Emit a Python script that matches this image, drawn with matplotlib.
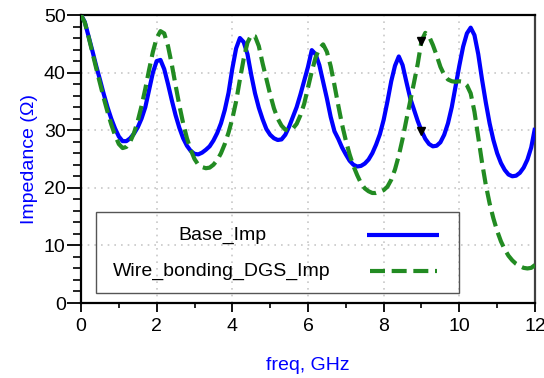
import numpy as np
import matplotlib
matplotlib.use("Agg")
import matplotlib.pyplot as plt
from matplotlib.patches import Rectangle
from matplotlib.ticker import MultipleLocator

plt.rcParams['font.family'] = ['Liberation Sans', 'DejaVu Sans']

# ---- data ----
freq = [round(0.1 * i, 1) for i in range(121)]

base_imp = [
    50.0, 48.8, 46.3, 43.8, 41.2, 38.8, 36.3, 34.0, 32.0, 30.3,
    28.9, 28.1, 28.1, 28.6, 29.4, 30.5, 32.0, 34.0, 37.0, 40.0,
    42.0, 42.2, 40.6, 38.0, 35.2, 32.6, 30.4, 28.6, 27.3, 26.4,
    25.9, 25.8, 26.1, 26.6, 27.2, 28.2, 29.5, 31.2, 33.5, 36.5,
    40.7, 44.2, 46.0, 45.3, 43.2, 39.6, 36.4, 33.9, 31.9, 30.2,
    29.2, 28.6, 28.3, 28.4, 29.2, 30.6, 32.3, 34.0, 36.2, 38.6,
    41.0, 43.9, 43.2, 41.3, 38.4, 35.5, 32.3, 29.8, 28.5, 27.0,
    25.8, 24.7, 24.0, 23.7, 23.8, 24.2, 24.9, 26.0, 27.5, 29.3,
    31.8, 35.0, 38.5, 41.2, 42.8, 41.3, 38.4, 35.6, 33.6, 31.6,
    29.9, 28.5, 27.6, 27.2, 27.3, 27.9, 29.2, 31.2, 34.0, 37.6,
    41.2, 44.5, 46.8, 47.8, 46.5, 43.2, 38.8, 34.8, 31.2, 28.3,
    26.0, 24.3, 23.1, 22.3, 22.0, 22.1, 22.6, 23.5, 24.9, 27.0,
    30.4,
]

dgs_imp = [
    50.0, 48.7, 46.2, 43.5, 40.8, 38.2, 35.6, 33.2, 31.0, 29.1,
    27.6, 26.9, 27.1, 28.0, 29.5, 31.6, 34.2, 37.2, 40.5, 43.6,
    46.0, 47.2, 46.8, 44.6, 41.4, 37.8, 34.3, 31.2, 28.6, 26.6,
    25.0, 24.0, 23.6, 23.4, 23.5, 24.0, 24.8, 26.0, 27.6, 29.6,
    32.0, 35.0, 38.8, 42.4, 45.2, 46.5, 46.3, 44.6, 41.6, 38.9,
    36.2, 33.8, 32.0, 30.8, 30.1, 29.9, 30.3, 31.1, 32.6, 34.6,
    37.4, 40.2, 42.6, 44.2, 44.9, 43.6, 41.1, 37.8, 34.3, 31.0,
    28.2, 25.8, 23.8, 22.2, 20.8, 19.9, 19.4, 19.1, 19.1, 19.3,
    19.6, 20.2, 21.4, 23.2, 25.6, 28.5, 31.8, 35.0, 38.2, 41.5,
    45.5, 46.9, 46.3, 44.8, 43.0, 41.0, 39.6, 38.8, 38.5, 38.4,
    38.5, 38.4, 37.8, 36.4, 33.2, 28.8, 24.4, 20.5, 17.3, 14.7,
    12.5, 10.7, 9.3, 8.2, 7.4, 6.8, 6.4, 6.1, 6.0, 6.1,
    6.6,
]

marker_freq = 9.0
series_names = ["Base_Imp", "Wire_bonding_DGS_Imp"]
x_ticks = [0, 2, 4, 6, 8, 10, 12]
y_ticks = [0, 10, 20, 30, 40, 50]

# ---- figure ----
fig = plt.figure(figsize=(5.44, 3.78), dpi=100)
ax = fig.add_axes([81 / 544, 1 - 303 / 378, 454 / 544, 288 / 378])

blue = "#0000ff"
green = "#228b22"

ax.plot(freq, base_imp, color=blue, lw=3.0, solid_capstyle='butt', zorder=3)
ax.plot(freq, dgs_imp, color=green, lw=3.0, dashes=(3.6, 1.6), zorder=3)

mi = freq.index(marker_freq)
ax.plot([marker_freq, marker_freq], [dgs_imp[mi], base_imp[mi]], linestyle='none',
        marker='v', color='black', markersize=6, zorder=5)

ax.set_xlim(0, 12)
ax.set_ylim(0, 50)
ax.set_xticks(x_ticks)
ax.set_yticks(y_ticks)
ax.xaxis.set_minor_locator(MultipleLocator(1))
ax.yaxis.set_minor_locator(MultipleLocator(2))
ax.tick_params(axis='both', which='major', labelsize=14, width=1.3, direction='out', color='black', pad=1)
ax.tick_params(axis='y', which='major', length=10)
ax.tick_params(axis='x', which='major', length=6.5, pad=4)
ax.tick_params(axis='y', which='minor', length=6, width=1.2)
ax.tick_params(axis='x', which='minor', length=3.5, width=1.2)

ax.grid(True, which='major', color='#c8c8c8', linestyle=(0, (1, 3)), linewidth=1.2)

for s in ['left', 'bottom', 'top']:
    ax.spines[s].set_linewidth(1.6)
    ax.spines[s].set_color('black')
ax.spines['right'].set_linewidth(1.6)
ax.spines['right'].set_color('#404040')

ax.set_xlabel("freq, GHz", color=blue, fontsize=14, labelpad=16)
ax.set_ylabel("Impedance (Ω)", color=blue, fontsize=14, labelpad=4)

# ---- legend box ----
ax.add_patch(Rectangle((0.033, 0.035), 0.80, 0.281, transform=ax.transAxes,
                       fill=False, edgecolor='#555555', lw=1.0, zorder=4))
ax.text(0.311, 0.233, series_names[0], transform=ax.transAxes, ha='center',
        va='center', fontsize=14, zorder=4)
ax.text(0.311, 0.108, series_names[1], transform=ax.transAxes, ha='center',
        va='center', fontsize=14, zorder=4)
ax.plot([0.630, 0.7885], [0.236, 0.236], transform=ax.transAxes, color=blue,
        lw=3.0, solid_capstyle='butt', zorder=4)
ax.plot([0.6366, 0.784], [0.111, 0.111], transform=ax.transAxes, color=green,
        lw=3.0, dashes=(3.6, 1.6), zorder=4)

fig.savefig("out.png", dpi=100)
